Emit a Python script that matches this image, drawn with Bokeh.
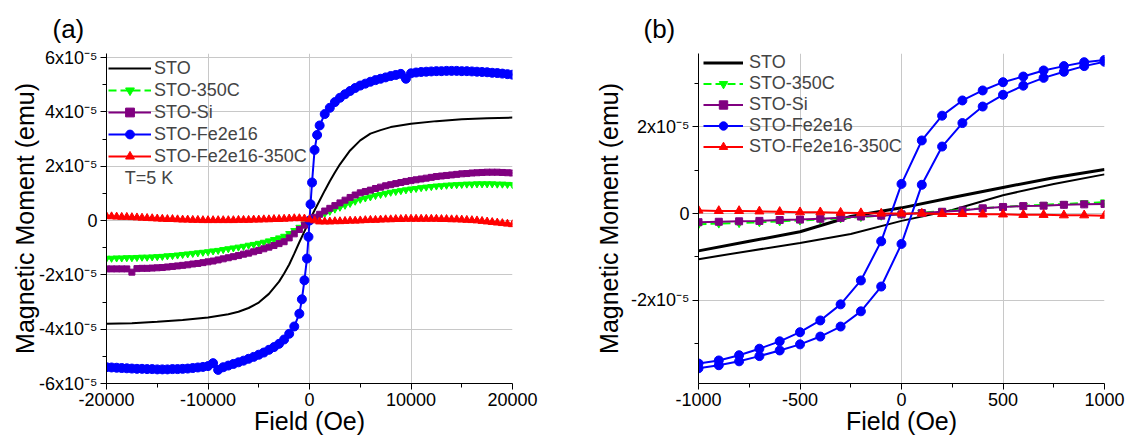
from bokeh.plotting import figure
from bokeh.layouts import row
from bokeh.models import (Range1d, FixedTicker, CustomJSTickFormatter, Legend,
                          LegendItem, Label, ColumnDataSource)
from bokeh.embed import file_html
from bokeh.resources import INLINE

FONT = "Liberation Sans"
UNIT = 1e-5  # values below are in units of 1e-5 emu

labels = ["STO", "STO-350C", "STO-Si", "STO-Fe2e16", "STO-Fe2e16-350C"]

# ---------------- Panel (a): full field range, T = 5 K ----------------
field_a = [-20000, -19500, -19000, -18500, -18000, -17500, -17000, -16500, -16000, -15500,
           -15000, -14500, -14000, -13500, -13000, -12500, -12000, -11500, -11000, -10500,
           -10000, -9500, -9000, -8500, -8000, -7500, -7000, -6500, -6000, -5500,
           -5000, -4500, -4000, -3500, -3000, -2500, -2000, -1500, -1000, -500,
           0, 500, 1000, 1500, 2000, 2500, 3000, 3500, 4000, 4500,
           5000, 5500, 6000, 6500, 7000, 7500, 8000, 8500, 9000, 9500,
           10000, 10500, 11000, 11500, 12000, 12500, 13000, 13500, 14000, 14500,
           15000, 15500, 16000, 16500, 17000, 17500, 18000, 18500, 19000, 19500,
           20000]

sto350_a = [-1.39, -1.39, -1.38, -1.38, -1.37, -1.37, -1.36, -1.35, -1.35, -1.34,
            -1.33, -1.32, -1.30, -1.29, -1.27, -1.25, -1.23, -1.21, -1.19, -1.17,
            -1.15, -1.12, -1.10, -1.07, -1.04, -1.01, -0.98, -0.95, -0.91, -0.88,
            -0.84, -0.80, -0.75, -0.70, -0.64, -0.58, -0.48, -0.37, -0.25, -0.13,
            0.00, 0.09, 0.18, 0.26, 0.34, 0.42, 0.49, 0.56, 0.63, 0.71,
            0.78, 0.83, 0.87, 0.92, 0.96, 1.00, 1.04, 1.07, 1.10, 1.13,
            1.16, 1.18, 1.21, 1.23, 1.25, 1.27, 1.28, 1.30, 1.31, 1.32,
            1.33, 1.34, 1.34, 1.35, 1.35, 1.35, 1.35, 1.34, 1.34, 1.33,
            1.32]

stosi_a = [-1.78, -1.78, -1.78, -1.78, -1.78, -1.90, -1.77, -1.76, -1.76, -1.75,
           -1.74, -1.73, -1.71, -1.69, -1.67, -1.65, -1.63, -1.60, -1.58, -1.55,
           -1.52, -1.49, -1.45, -1.41, -1.37, -1.33, -1.29, -1.24, -1.20, -1.15,
           -1.10, -1.04, -0.98, -0.92, -0.85, -0.78, -0.64, -0.49, -0.33, -0.17,
           0.00, 0.12, 0.23, 0.35, 0.45, 0.55, 0.65, 0.75, 0.85, 0.94,
           1.02, 1.07, 1.12, 1.18, 1.23, 1.28, 1.32, 1.36, 1.40, 1.44,
           1.47, 1.50, 1.53, 1.56, 1.59, 1.62, 1.64, 1.66, 1.68, 1.70,
           1.72, 1.73, 1.75, 1.76, 1.77, 1.78, 1.78, 1.78, 1.77, 1.76,
           1.75]

fe350_a = [0.16, 0.15, 0.14, 0.13, 0.13, 0.12, 0.11, 0.10, 0.09, 0.08,
           0.07, 0.06, 0.05, 0.05, 0.04, 0.03, 0.03, 0.02, 0.02, 0.01,
           0.01, 0.01, 0.01, 0.01, 0.01, 0.01, 0.02, 0.02, 0.02, 0.03,
           0.03, 0.04, 0.04, 0.05, 0.05, 0.06, 0.07, 0.08, 0.08, 0.07,
           0.04, 0.00, -0.04, -0.04, -0.04, -0.03, -0.03, -0.02, -0.01, -0.01,
           0.00, 0.01, 0.02, 0.02, 0.03, 0.04, 0.04, 0.05, 0.05, 0.06,
           0.06, 0.06, 0.06, 0.06, 0.06, 0.06, 0.05, 0.05, 0.04, 0.04,
           0.03, 0.02, 0.01, 0.00, -0.02, -0.04, -0.06, -0.08, -0.10, -0.12,
           -0.14]

field_fe_a = [-20000, -19500, -19000, -18500, -18000, -17500, -17000, -16500, -16000, -15500,
              -15000, -14500, -14000, -13500, -13000, -12500, -12000, -11500, -11000, -10500,
              -10000, -9500, -9000, -8500, -8000, -7500, -7000, -6500, -6000, -5500,
              -5000, -4500, -4000, -3500, -3000, -2500, -2000, -1500,
              -1000, -750, -500, -250, -100, 0, 100, 250, 500, 750, 1000,
              1500, 2000, 2500, 3000, 3500, 4000, 4500,
              5000, 5500, 6000, 6500, 7000, 7500, 8000, 8500, 9000, 9500,
              10000, 10500, 11000, 11500, 12000, 12500, 13000, 13500, 14000, 14500,
              15000, 15500, 16000, 16500, 17000, 17500, 18000, 18500, 19000, 19500,
              20000]

fe_a = [-5.40, -5.41, -5.42, -5.43, -5.44, -5.45, -5.46, -5.46, -5.47, -5.47,
        -5.48, -5.48, -5.48, -5.47, -5.47, -5.46, -5.45, -5.43, -5.41, -5.39,
        -5.36, -5.25, -5.50, -5.40, -5.34, -5.28, -5.22, -5.16, -5.09, -5.02,
        -4.94, -4.86, -4.76, -4.66, -4.54, -4.38, -4.17, -3.90,
        -3.43, -2.90, -2.20, -1.40, -0.60, 0.00, 0.60, 1.40, 2.60, 3.15, 3.50,
        3.92, 4.15, 4.36, 4.52, 4.65, 4.77, 4.88,
        4.97, 5.04, 5.11, 5.17, 5.22, 5.27, 5.32, 5.36, 5.40, 5.22,
        5.42, 5.45, 5.47, 5.48, 5.49, 5.50, 5.50, 5.51, 5.51, 5.51,
        5.50, 5.50, 5.49, 5.48, 5.47, 5.46, 5.44, 5.43, 5.41, 5.39,
        5.37]

field_sto_a = [-20000, -17500, -15000, -12500, -10000, -8000, -7000, -6000, -5000, -4000,
               -3000, -2500, -2000, -1500, -1000, -500, 0, 500, 1000, 1500,
               2000, 2500, 3000, 4000, 5000, 6000, 7000, 8000, 10000, 12500,
               15000, 17500, 20000]
sto_a = [-3.80, -3.78, -3.73, -3.66, -3.57, -3.45, -3.36, -3.22, -3.02, -2.70,
         -2.25, -1.95, -1.62, -1.22, -0.80, -0.40, 0.00, 0.38, 0.74, 1.10,
         1.45, 1.77, 2.07, 2.58, 2.95, 3.20, 3.33, 3.44, 3.56, 3.66,
         3.73, 3.77, 3.79]

# ---------------- Panel (b): low-field loops ----------------
field_b = [-1000, -900, -800, -700, -600, -500, -400, -300, -200, -100, 0,
           100, 200, 300, 400, 500, 600, 700, 800, 900, 1000]
fe_b_desc = [-3.45, -3.38, -3.26, -3.11, -2.94, -2.73, -2.46, -2.09, -1.54, -0.64, 0.68,
             1.68, 2.25, 2.60, 2.83, 3.02, 3.15, 3.29, 3.39, 3.48, 3.53]
fe_b_asc = [-3.56, -3.49, -3.40, -3.28, -3.15, -3.01, -2.83, -2.60, -2.25, -1.68, -0.70,
            0.66, 1.54, 2.08, 2.46, 2.73, 2.94, 3.12, 3.26, 3.39, 3.49]
sto350_b = [-0.25, -0.23, -0.22, -0.20, -0.18, -0.16, -0.14, -0.11, -0.08, -0.05, -0.02,
            0.02, 0.05, 0.08, 0.12, 0.15, 0.18, 0.20, 0.22, 0.24, 0.26]
stosi_b = [-0.20, -0.19, -0.18, -0.17, -0.15, -0.14, -0.12, -0.10, -0.07, -0.05, -0.02,
           0.01, 0.04, 0.07, 0.12, 0.15, 0.17, 0.18, 0.20, 0.21, 0.22]
fe350_b = [0.07, 0.06, 0.06, 0.05, 0.04, 0.03, 0.03, 0.02, 0.01, 0.00, 0.00,
           0.00, -0.01, -0.01, -0.02, -0.02, -0.03, -0.03, -0.04, -0.04, -0.05]
field_sto_b = [-1000, -750, -500, -250, 0, 250, 500, 750, 1000]
sto_b_desc = [-0.86, -0.64, -0.42, -0.07, 0.13, 0.37, 0.60, 0.82, 1.01]
sto_b_asc = [-1.05, -0.86, -0.68, -0.47, -0.17, 0.08, 0.42, 0.68, 0.90]

COL = {"STO": "black", "STO-350C": "#00ff00", "STO-Si": "#800080",
       "STO-Fe2e16": "#0000ff", "STO-Fe2e16-350C": "#ff0000"}


def src(x, y):
    return ColumnDataSource(dict(x=x, y=[v * UNIT for v in y]))


y_fmt_code = "const m = Math.round(tick * 1e5); return m === 0 ? '0' : m + 'x10\u207b\u2075';"
x_fmt_code = "return Math.round(tick).toString();"


def make_fig(xr, yr, xt, xm, yt, ym, left, right, ylab_standoff, panel, title_offset):
    p = figure(frame_width=406, frame_height=330, min_border_left=left,
               min_border_right=right, min_border_top=53, min_border_bottom=55,
               x_range=Range1d(*xr), y_range=Range1d(*yr),
               output_backend="svg", toolbar_location=None, tools="")
    p.outline_line_color = None
    p.background_fill_color = "white"
    p.border_fill_color = "white"
    p.title.text = panel
    p.title.align = "left"
    p.title.offset = title_offset
    p.title.standoff = 19
    p.title.text_font = FONT
    p.title.text_font_size = "26px"
    p.title.text_font_style = "normal"
    p.title.text_color = "black"
    p.xaxis.ticker = FixedTicker(ticks=xt, minor_ticks=xm)
    p.yaxis.ticker = FixedTicker(ticks=yt, minor_ticks=ym)
    p.xaxis.formatter = CustomJSTickFormatter(code=x_fmt_code)
    p.yaxis.formatter = CustomJSTickFormatter(code=y_fmt_code)
    p.xaxis.axis_label = "Field (Oe)"
    p.yaxis.axis_label = "Magnetic Moment (emu)"
    for ax in (p.xaxis[0], p.yaxis[0]):
        ax.axis_line_color = "black"
        ax.major_tick_line_color = "black"
        ax.minor_tick_line_color = "black"
        ax.major_tick_out = 6
        ax.major_tick_in = 0
        ax.minor_tick_out = 4
        ax.minor_tick_in = 0
        ax.major_label_text_font = FONT
        ax.major_label_text_font_size = "18px"
        ax.major_label_text_color = "black"
        ax.major_label_standoff = 3
        ax.axis_label_text_font = FONT
        ax.axis_label_text_font_size = "25px"
        ax.axis_label_text_font_style = "normal"
        ax.axis_label_text_color = "black"
    p.xaxis.axis_label_standoff = -2
    p.yaxis.axis_label_standoff = ylab_standoff
    p.xgrid.grid_line_color = "#c8c8c8"
    p.ygrid.grid_line_color = "#c8c8c8"
    return p


# ---------------- build (a) ----------------
pa = make_fig((-20000, 20000), (-6e-5, 6.15e-5),
              [-20000, -10000, 0, 10000, 20000], [-15000, -5000, 5000, 15000],
              [-6e-5, -4e-5, -2e-5, 0, 2e-5, 4e-5, 6e-5],
              [-5e-5, -3e-5, -1e-5, 1e-5, 3e-5, 5e-5], 106, 56, -3, "(a)", -54)

ra = {}
ra["STO"] = [pa.line("x", "y", source=src(field_sto_a, sto_a), color=COL["STO"], line_width=2)]
s = src(field_a, sto350_a)
ra["STO-350C"] = [pa.line("x", "y", source=s, color=COL["STO-350C"], line_width=2, line_dash="8 4"),
                  pa.scatter("x", "y", source=s, marker="inverted_triangle", size=7,
                             color=COL["STO-350C"])]
s = src(field_a, stosi_a)
ra["STO-Si"] = [pa.line("x", "y", source=s, color=COL["STO-Si"], line_width=2),
                pa.scatter("x", "y", source=s, marker="square", size=6, color=COL["STO-Si"])]
s = src(field_fe_a, fe_a)
ra["STO-Fe2e16"] = [pa.line("x", "y", source=s, color=COL["STO-Fe2e16"], line_width=2),
                    pa.scatter("x", "y", source=s, marker="circle", size=9, color=COL["STO-Fe2e16"])]
s = src(field_a, fe350_a)
ra["STO-Fe2e16-350C"] = [pa.line("x", "y", source=s, color=COL["STO-Fe2e16-350C"], line_width=2),
                         pa.scatter("x", "y", source=s, marker="triangle", size=8,
                                    color=COL["STO-Fe2e16-350C"])]

leg_a = Legend(items=[LegendItem(label=k, renderers=ra[k]) for k in labels],
               location=(1, 215), label_text_font=FONT, label_text_font_size="18px",
               glyph_width=43, glyph_height=22, label_height=22, label_standoff=3,
               spacing=0, padding=1, margin=0, background_fill_alpha=0, border_line_alpha=0)
pa.add_layout(leg_a)
pa.add_layout(Label(x=-18200, y=1.55e-5, text="T=5 K", text_font=FONT, text_font_size="18px",
                    text_baseline="middle"))

# ---------------- build (b) ----------------
pb = make_fig((-1000, 1000), (-3.91e-5, 3.68e-5),
              [-1000, -500, 0, 500, 1000], [-750, -250, 250, 750],
              [-2e-5, 0, 2e-5], [-3e-5, -1e-5, 1e-5, 3e-5], 130, 30, 5, "(b)", -55)

rb = {}
l1 = pb.line("x", "y", source=src(field_sto_b, sto_b_desc), color="black", line_width=3)
l2 = pb.line("x", "y", source=src(field_sto_b, sto_b_asc), color="black", line_width=2)
rb["STO"] = [l1]
s = src(field_b, sto350_b)
rb["STO-350C"] = [pb.line("x", "y", source=s, color=COL["STO-350C"], line_width=2, line_dash="8 4"),
                  pb.scatter("x", "y", source=s, marker="inverted_triangle", size=8,
                             color=COL["STO-350C"])]
s = src(field_b, stosi_b)
rb["STO-Si"] = [pb.line("x", "y", source=s, color=COL["STO-Si"], line_width=2),
                pb.scatter("x", "y", source=s, marker="square", size=7, color=COL["STO-Si"])]
s1 = src(field_b, fe_b_desc)
s2 = src(field_b, fe_b_asc)
fl1 = pb.line("x", "y", source=s1, color=COL["STO-Fe2e16"], line_width=2)
fm1 = pb.scatter("x", "y", source=s1, marker="circle", size=9, color=COL["STO-Fe2e16"])
pb.line("x", "y", source=s2, color=COL["STO-Fe2e16"], line_width=2)
pb.scatter("x", "y", source=s2, marker="circle", size=9, color=COL["STO-Fe2e16"])
rb["STO-Fe2e16"] = [fl1, fm1]
s = src(field_b, fe350_b)
rb["STO-Fe2e16-350C"] = [pb.line("x", "y", source=s, color=COL["STO-Fe2e16-350C"], line_width=2),
                         pb.scatter("x", "y", source=s, marker="triangle", size=9,
                                    color=COL["STO-Fe2e16-350C"])]

leg_b = Legend(items=[LegendItem(label=k, renderers=rb[k]) for k in labels],
               location=(4, 225), label_text_font=FONT, label_text_font_size="18px",
               glyph_width=40, glyph_height=21, label_height=21, label_standoff=6,
               spacing=0, padding=1, margin=0, background_fill_alpha=0, border_line_alpha=0)
pb.add_layout(leg_b)

layout = row(pa, pb)
open("out.html", "w").write(file_html(layout, INLINE))
